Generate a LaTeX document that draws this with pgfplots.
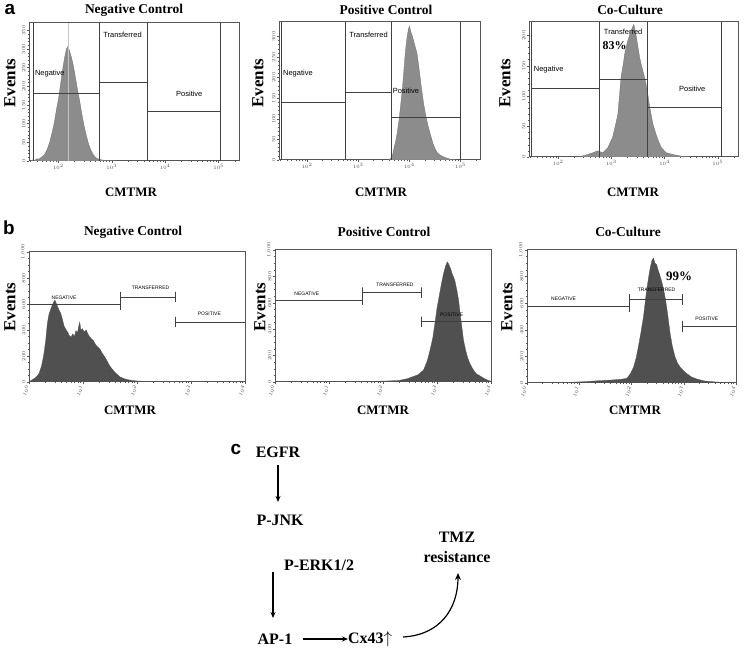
\documentclass[border=0pt]{standalone}
\usepackage{pgfplots}
\pgfplotsset{compat=1.18}
\usetikzlibrary{arrows.meta}
\usepackage{fontspec}
\setmainfont{Liberation Serif}
\newfontfamily\sansf{Liberation Sans}
\definecolor{axc}{RGB}{85,85,85}
\definecolor{histA}{RGB}{140,140,140}
\definecolor{histAd}{RGB}{110,110,110}
\definecolor{histB}{RGB}{80,80,80}
\definecolor{gatec}{RGB}{65,65,65}
\pgfplotsset{
  base/.style={scale only axis, anchor=south west, ymin=0,
    axis line style={draw=axc, line width=1bp},
    tick align=outside, major tick length=2.5bp, minor tick length=1.5bp,
    tick style={draw=axc, line width=0.5bp},
    xtick pos=bottom, ytick pos=left,
    ticklabel style={font=\fontsize{5}{5}\selectfont, text=black!70, inner sep=1bp},
    yticklabel style={rotate=90, anchor=south}},
  rowa/.style={base, xmin=1.45, xmax=5.38, xtick={2,3,4,5},
    xticklabels={$10^{2}$,$10^{3}$,$10^{4}$,$10^{5}$},
    minor xtick={1.477,1.602,1.699,1.778,1.845,1.903,1.954,2.301,2.477,2.602,2.699,2.778,2.845,2.903,2.954,3.301,3.477,3.602,3.699,3.778,3.845,3.903,3.954,4.301,4.477,4.602,4.699,4.778,4.845,4.903,4.954,5.301},
    minor y tick num=4},
  rowb/.style={base, xmin=0, xmax=4, xtick={0,1,2,3,4}, ymax=1000,
    xticklabels={$10^{0}$,$10^{1}$,$10^{2}$,$10^{3}$,$10^{4}$},
    minor xtick={0.301,0.477,0.602,0.699,0.778,0.845,0.903,0.954,1.301,1.477,1.602,1.699,1.778,1.845,1.903,1.954,2.301,2.477,2.602,2.699,2.778,2.845,2.903,2.954,3.301,3.477,3.602,3.699,3.778,3.845,3.903,3.954},
    ytick={0,200,400,600,800,1000}, minor y tick num=3,
    xticklabel style={rotate=60, anchor=east}},
  gl/.style={gatec, line width=0.8bp, forget plot},
  ha/.style={fill=histA, draw=histAd, line width=0.3bp},
  hb/.style={fill=histB, draw=histB, line width=0.3bp},
}
\newcommand{\gla}{\sansf\fontsize{7.5}{8}\selectfont}
\newcommand{\glb}{\sansf\fontsize{5}{5}\selectfont}
\newcommand{\ttl}{\bfseries\fontsize{13.5}{15}\selectfont}
\newcommand{\evt}{\bfseries\fontsize{17}{18}\selectfont}
\newcommand{\cmt}{\bfseries\fontsize{13}{14}\selectfont}
\newcommand{\pl}{\sansf\bfseries\fontsize{19}{19}\selectfont}
\newcommand{\ctx}{\bfseries\fontsize{16}{17}\selectfont}
\begin{document}
\begin{tikzpicture}[x=1bp,y=1bp]
\path[use as bounding box] (0,0) rectangle (746,649);

% ---------------- row a, panel 1
\begin{axis}[rowa, at={(29bp,488bp)}, width=210bp, height=138bp, ymax=370, ytick={0,50,...,350}]
\addplot[ha] coordinates {(1.48,0)(1.52,3)(1.56,2)(1.60,6)(1.64,5)(1.68,10)(1.72,14)(1.76,22)(1.80,35)(1.84,52)(1.88,75)(1.92,100)(1.96,135)(2.00,165)(2.03,195)(2.06,225)(2.09,255)(2.12,280)(2.15,300)(2.18,308)(2.21,295)(2.24,280)(2.27,262)(2.30,240)(2.33,215)(2.36,190)(2.40,160)(2.44,125)(2.48,95)(2.52,70)(2.56,48)(2.60,32)(2.64,20)(2.68,12)(2.72,7)(2.78,4)(2.85,2)(2.95,1)(3.10,0)} \closedcycle;
\addplot[gray!45, line width=0.6bp, forget plot] coordinates {(2.19,0)(2.19,370)};
\addplot[gl] coordinates {(1.53,0)(1.53,370)};
\addplot[gl] coordinates {(2.77,0)(2.77,370)};
\addplot[gl] coordinates {(3.66,0)(3.66,370)};
\addplot[gl] coordinates {(5.04,0)(5.04,370)};
\addplot[gl] coordinates {(1.53,181)(2.77,181)};
\addplot[gl] coordinates {(2.77,211)(3.66,211)};
\addplot[gl] coordinates {(3.66,134)(5.04,134)};
\node[font=\gla] at (axis cs:1.84,234) {Negative};
\node[font=\gla] at (axis cs:3.2,339) {Transferred};
\node[font=\gla] at (axis cs:4.45,181) {Positive};
\end{axis}

% ---------------- row a, panel 2
\begin{axis}[rowa, at={(279bp,489bp)}, width=201bp, height=138bp, ymax=335, ytick={0,50,...,300}]
\addplot[ha] coordinates {(3.60,0)(3.64,5)(3.67,12)(3.70,30)(3.73,45)(3.76,65)(3.80,100)(3.83,135)(3.86,170)(3.89,215)(3.92,262)(3.95,295)(3.98,318)(4.00,325)(4.03,310)(4.06,300)(4.09,285)(4.12,272)(4.15,258)(4.18,230)(4.21,200)(4.24,170)(4.28,135)(4.32,108)(4.36,85)(4.41,62)(4.46,40)(4.50,28)(4.54,18)(4.60,12)(4.66,8)(4.72,5)(4.80,2)(4.90,0)} \closedcycle;
\addplot[gl] coordinates {(1.49,0)(1.49,335)};
\addplot[gl] coordinates {(2.74,0)(2.74,335)};
\addplot[gl] coordinates {(3.64,0)(3.64,335)};
\addplot[gl] coordinates {(5.00,0)(5.00,335)};
\addplot[gl] coordinates {(1.49,139)(2.74,139)};
\addplot[gl] coordinates {(2.74,164)(3.64,164)};
\addplot[gl] coordinates {(3.64,104)(5.00,104)};
\node[font=\gla] at (axis cs:1.82,210) {Negative};
\node[font=\gla] at (axis cs:3.2,305) {Transferred};
\node[font=\gla] at (axis cs:3.93,167) {Positive};
\end{axis}

% ---------------- row a, panel 3
\begin{axis}[rowa, at={(529bp,492bp)}, width=209bp, height=135bp, ymax=222, ytick={0,50,...,200}]
\addplot[ha] coordinates {(2.40,0)(2.46,2)(2.55,4)(2.65,7)(2.74,10)(2.84,7)(2.93,15)(3.02,32)(3.07,50)(3.12,70)(3.15,100)(3.18,131)(3.22,152)(3.25,170)(3.28,182)(3.31,192)(3.34,200)(3.37,208)(3.40,214)(3.42,218)(3.44,210)(3.47,197)(3.50,180)(3.53,164)(3.56,152)(3.59,142)(3.62,132)(3.65,120)(3.69,100)(3.72,82)(3.75,68)(3.78,54)(3.84,37)(3.89,25)(3.94,15)(4.03,7)(4.16,4)(4.34,1)(4.50,0)} \closedcycle;
\addplot[gl] coordinates {(1.50,0)(1.50,222)};
\addplot[gl] coordinates {(2.77,0)(2.77,222)};
\addplot[gl] coordinates {(3.67,0)(3.67,222)};
\addplot[gl] coordinates {(5.06,0)(5.06,222)};
\addplot[gl] coordinates {(1.50,112)(2.77,112)};
\addplot[gl] coordinates {(2.77,127)(3.67,127)};
\addplot[gl] coordinates {(3.67,81)(5.06,81)};
\node[font=\gla] at (axis cs:1.82,143) {Negative};
\node[font=\gla] at (axis cs:3.22,205) {Transferred};
\node[font=\bfseries\fontsize{12}{13}\selectfont] at (axis cs:3.06,183) {83\%};
\node[font=\gla] at (axis cs:4.52,112) {Positive};
\end{axis}

% ---------------- row b, panel 1
\begin{axis}[rowb, at={(29bp,267bp)}, width=216bp, height=130bp]
\addplot[hb] coordinates {(0.00,0)(0.03,10)(0.07,20)(0.11,30)(0.15,45)(0.19,70)(0.23,120)(0.27,200)(0.31,320)(0.34,450)(0.37,520)(0.41,570)(0.45,610)(0.48,630)(0.51,600)(0.55,560)(0.59,525)(0.62,480)(0.65,430)(0.69,400)(0.72,380)(0.75,355)(0.78,346)(0.81,370)(0.84,350)(0.87,395)(0.90,380)(0.92,430)(0.94,460)(0.96,400)(0.99,410)(1.02,385)(1.06,400)(1.09,370)(1.12,350)(1.16,330)(1.19,320)(1.23,290)(1.27,270)(1.31,256)(1.35,225)(1.40,195)(1.44,167)(1.48,135)(1.52,110)(1.56,90)(1.60,70)(1.65,52)(1.69,38)(1.75,28)(1.81,20)(1.90,12)(2.00,8)(2.20,4)(2.50,2)(3.00,1)(4.00,0)} \closedcycle;
\addplot[gl] coordinates {(0,595)(1.70,595)(1.70,635)(1.70,555)};
\addplot[gl] coordinates {(1.70,614)(1.70,694)(1.70,654)(2.72,654)(2.72,694)(2.72,614)};
\addplot[gl] coordinates {(2.72,420)(2.72,500)(2.72,460)(4.0,460)(4.0,500)(4.0,420)};
\node[font=\glb] at (axis cs:0.65,650) {NEGATIVE};
\node[font=\glb] at (axis cs:2.25,725) {TRANSFERRED};
\node[font=\glb] at (axis cs:3.34,525) {POSITIVE};
\end{axis}

% ---------------- row b, panel 2
\begin{axis}[rowb, at={(275bp,267bp)}, width=216bp, height=132bp]
\addplot[hb] coordinates {(0.0,0)(0.3,4)(0.6,3)(1.0,5)(1.3,3)(1.6,5)(1.9,6)(2.1,8)(2.3,12)(2.45,25)(2.55,40)(2.65,55)(2.75,90)(2.82,160)(2.87,240)(2.92,330)(2.96,440)(3.00,560)(3.04,650)(3.08,740)(3.12,820)(3.16,880)(3.19,910)(3.22,890)(3.25,860)(3.29,810)(3.33,770)(3.37,690)(3.40,620)(3.44,480)(3.49,320)(3.53,240)(3.57,180)(3.61,140)(3.66,100)(3.72,65)(3.80,45)(3.88,25)(3.95,12)(4.0,5)(4.0,0)} \closedcycle;
\addplot[gl] coordinates {(0,620)(1.62,620)(1.62,660)(1.62,580)};
\addplot[gl] coordinates {(1.62,636)(1.62,716)(1.62,676)(2.72,676)(2.72,716)(2.72,636)};
\addplot[gl] coordinates {(2.72,416)(2.72,496)(2.72,456)(4.0,456)(4.0,496)(4.0,416)};
\node[font=\glb] at (axis cs:0.59,670) {NEGATIVE};
\node[font=\glb] at (axis cs:2.22,734) {TRANSFERRED};
\node[font=\glb] at (axis cs:3.27,510) {POSITIVE};
\end{axis}

% ---------------- row b, panel 3
\begin{axis}[rowb, at={(527bp,266bp)}, width=209bp, height=133bp]
\addplot[hb] coordinates {(0.0,0)(0.4,3)(0.8,5)(1.1,10)(1.4,18)(1.6,22)(1.8,28)(1.91,35)(1.98,70)(2.04,120)(2.09,190)(2.13,270)(2.18,380)(2.23,500)(2.26,600)(2.29,700)(2.33,800)(2.36,870)(2.39,920)(2.42,940)(2.45,900)(2.48,890)(2.51,850)(2.55,800)(2.58,760)(2.61,710)(2.65,630)(2.68,550)(2.71,460)(2.74,370)(2.78,280)(2.83,200)(2.88,150)(2.93,120)(3.00,90)(3.06,70)(3.15,45)(3.25,30)(3.40,15)(3.60,8)(3.80,4)(4.00,0)} \closedcycle;
\addplot[gl] coordinates {(0,573)(1.96,573)(1.96,613)(1.96,533)};
\addplot[gl] coordinates {(1.96,588)(1.96,668)(1.96,628)(2.97,628)(2.97,668)(2.97,588)};
\addplot[gl] coordinates {(2.97,387)(2.97,467)(2.97,427)(4.0,427)(4.0,467)(4.0,387)};
\node[font=\glb] at (axis cs:0.70,630) {NEGATIVE};
\node[font=\glb] at (axis cs:2.48,700) {TRANSFERRED};
\node[font=\glb] at (axis cs:3.44,485) {POSITIVE};
\node[font=\bfseries\fontsize{13}{14}\selectfont] at (axis cs:2.91,800) {99\%};
\end{axis}

% ---------------- titles, axis labels
\node[font=\ttl] at (134,639) {Negative Control};
\node[font=\ttl] at (386,639) {Positive Control};
\node[font=\ttl] at (630,639) {Co-Culture};
\node[font=\ttl] at (133,417) {Negative Control};
\node[font=\ttl] at (384,417) {Positive Control};
\node[font=\ttl] at (628,417) {Co-Culture};
\foreach \xx in {131,381,633} {\node[font=\cmt] at (\xx,457) {CMTMR};}
\foreach \xx in {130,383,635} {\node[font=\cmt] at (\xx,239) {CMTMR};}
\foreach \xx in {10,258,505} {\node[font=\evt, rotate=90] at (\xx,566) {Events};}
\foreach \xx in {10,260,507} {\node[font=\evt, rotate=90] at (\xx,342) {Events};}
\node[font=\pl, inner sep=0pt] at (10,639) {a};
\node[font=\pl, inner sep=0pt] at (9,421) {b};
\node[font=\pl, inner sep=0pt] at (236,199) {c};

% ---------------- panel c
\node[font=\ctx] at (278,197) {EGFR};
\draw[-{Stealth[length=6bp,width=5bp]}, line width=1.2bp] (278,184) -- (278,147);
\node[font=\ctx] at (280,129) {P-JNK};
\node[font=\ctx] at (319,84) {P-ERK1/2};
\draw[-{Stealth[length=6bp,width=5bp]}, line width=1.2bp] (273,77) -- (273,31);
\node[font=\ctx] at (275,10) {AP-1};
\draw[-{Stealth[length=6bp,width=5bp]}, line width=1.2bp] (303,10) -- (348,10);
\node[font=\ctx, anchor=west, inner sep=0pt] at (348,10) {Cx43$\uparrow$};
\node[font=\ctx] at (457,112) {TMZ};
\node[font=\ctx] at (457,92) {resistance};
\draw[-{Stealth[length=7bp,width=6bp]}, line width=1.2bp] (403,12) .. controls (440,14) and (458,40) .. (458,76);
\end{tikzpicture}
\end{document}
